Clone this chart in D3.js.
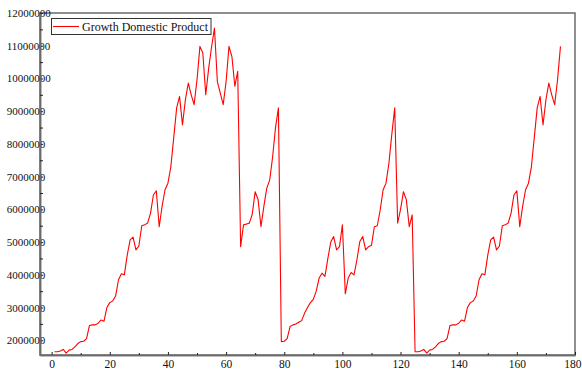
<!DOCTYPE html>
<html>
<head>
<meta charset="utf-8">
<script src="https://cdn.jsdelivr.net/npm/d3@7"></script>
<style>
  html, body { margin: 0; padding: 0; background: #ffffff; }
  svg { display: block; }
  text { font-family: "Liberation Serif", "Times New Roman", serif; fill: #111; }
</style>
</head>
<body>
<svg id="chart" width="582" height="371"></svg>
<script>
// Growth Domestic Product, one value per period (periods 1..175)
const gdpValues = [
  1650000, 1650000, 1670000, 1720000, 1610000, 1700000, 1720000, 1800000, 1900000, 1960000,
  1970000, 2050000, 2450000, 2470000, 2470000, 2520000, 2620000, 2580000, 3000000, 3150000,
  3200000, 3350000, 3850000, 4030000, 4000000, 4600000, 5070000, 5150000, 4760000, 4880000,
  5500000, 5530000, 5580000, 5880000, 6440000, 6570000, 5470000, 6100000, 6600000, 6800000,
  7300000, 8200000, 9100000, 9450000, 8580000, 9350000, 9860000, 9500000, 9200000, 9960000,
  10980000, 10780000, 9500000, 10300000, 10960000, 11540000, 9900000, 9550000, 9200000, 9900000,
  10980000, 10670000, 9760000, 10220000, 4860000, 5530000, 5550000, 5580000, 5850000, 6540000,
  6300000, 5470000, 6100000, 6650000, 6900000, 7600000, 8500000, 9100000, 1960000, 1970000,
  2050000, 2420000, 2470000, 2500000, 2550000, 2600000, 2830000, 3000000, 3150000, 3250000,
  3500000, 3900000, 4050000, 3950000, 4500000, 5000000, 5170000, 4760000, 4860000, 5530000,
  3420000, 3900000, 4070000, 4000000, 4460000, 5020000, 5170000, 4760000, 4860000, 4900000,
  5470000, 5500000, 5980000, 6600000, 6800000, 7410000, 8300000, 9100000, 5580000, 6000000,
  6540000, 6290000, 5470000, 5830000, 1650000, 1650000, 1670000, 1720000, 1610000, 1700000,
  1720000, 1800000, 1900000, 1960000, 1970000, 2050000, 2450000, 2470000, 2470000, 2520000,
  2620000, 2580000, 3000000, 3150000, 3200000, 3350000, 3850000, 4030000, 4000000, 4600000,
  5070000, 5150000, 4760000, 4880000, 5500000, 5530000, 5580000, 5880000, 6440000, 6570000,
  5470000, 6100000, 6600000, 6800000, 7300000, 8200000, 9100000, 9450000, 8580000, 9350000,
  9860000, 9500000, 9200000, 9960000, 10980000
];

const xTickValues = [0, 20, 40, 60, 80, 100, 120, 140, 160, 180];
const xMinorTickValues = [10, 30, 50, 70, 90, 110, 130, 150, 170];
const yTickValues = [2000000, 3000000, 4000000, 5000000, 6000000, 7000000, 8000000, 9000000, 10000000, 11000000, 12000000];
const yMinorTickValues = [2500000, 3500000, 4500000, 5500000, 6500000, 7500000, 8500000, 9500000, 10500000, 11500000];
const seriesName = "Growth Domestic Product";

const data = gdpValues.map((v, i) => ({ period: i + 1, value: v }));

const svg = d3.select("#chart");
const width = +svg.attr("width");
const plot = { left: 40, right: 575, top: 13, bottom: 355 };

const x = d3.scaleLinear().domain([-4, 180]).range([plot.left, plot.right]);
const y = d3.scaleLinear().domain([1550000, 12000000]).range([plot.bottom, plot.top]);

// plot frame (top and right edges)
svg.append("rect")
  .attr("x", plot.left).attr("y", plot.top)
  .attr("width", plot.right - plot.left).attr("height", plot.bottom - plot.top)
  .attr("fill", "none").attr("stroke", "#6b6b6b").attr("stroke-width", 1.5);

// series line
const line = d3.line().x(d => x(d.period)).y(d => y(d.value));
svg.append("path")
  .datum(data)
  .attr("d", line)
  .attr("fill", "none")
  .attr("stroke", "#ff0000")
  .attr("stroke-width", 1.1)
  .attr("stroke-linejoin", "round");

// x axis: major ticks with labels, minor ticks, both pointing inward
const xAxis = svg.append("g")
  .attr("transform", `translate(0,${plot.bottom})`)
  .call(d3.axisBottom(x).tickValues(xTickValues).tickSizeInner(-3).tickSizeOuter(0).tickPadding(5));
const xMinor = svg.append("g")
  .attr("transform", `translate(0,${plot.bottom})`)
  .call(d3.axisBottom(x).tickValues(xMinorTickValues).tickSizeInner(-2).tickSizeOuter(0).tickFormat(""));

// y axis: major ticks with labels, minor ticks, both pointing inward
const yAxis = svg.append("g")
  .attr("transform", `translate(${plot.left},0)`)
  .call(d3.axisLeft(y).tickValues(yTickValues).tickSizeInner(-3).tickSizeOuter(0).tickFormat(d3.format("d")));
const yMinor = svg.append("g")
  .attr("transform", `translate(${plot.left},0)`)
  .call(d3.axisLeft(y).tickValues(yMinorTickValues).tickSizeInner(-3).tickSizeOuter(0).tickFormat(""));

[xAxis, xMinor, yAxis, yMinor].forEach(g => {
  g.select(".domain").attr("stroke", "#6b6b6b").attr("stroke-width", 1.5);
  g.selectAll(".tick line").attr("stroke", "#222").attr("stroke-width", 1);
});

xAxis.selectAll(".tick text")
  .attr("font-family", "Liberation Serif, serif")
  .attr("font-size", 11.5)
  .attr("fill", "#111");

// keep the last x label inside the drawing area
xAxis.selectAll(".tick text")
  .filter(d => d === d3.max(xTickValues))
  .attr("text-anchor", "end")
  .attr("x", (width - 1) - x(d3.max(xTickValues)));

yAxis.selectAll(".tick text")
  .attr("font-family", "Liberation Serif, serif")
  .attr("font-size", 11)
  .attr("fill", "#111")
  .attr("text-anchor", "start")
  .attr("x", 6.7 - plot.left);

// legend
const legend = svg.append("g");
legend.append("rect")
  .attr("x", 51.5).attr("y", 18.5).attr("width", 159.5).attr("height", 16)
  .attr("fill", "#ffffff").attr("stroke", "#333").attr("stroke-width", 1);
legend.append("line")
  .attr("x1", 53).attr("x2", 79).attr("y1", 26.5).attr("y2", 26.5)
  .attr("stroke", "#ff0000").attr("stroke-width", 1.1);
legend.append("text")
  .attr("x", 82).attr("y", 30.5)
  .attr("font-size", 12)
  .text(seriesName);
</script>
</body>
</html>
